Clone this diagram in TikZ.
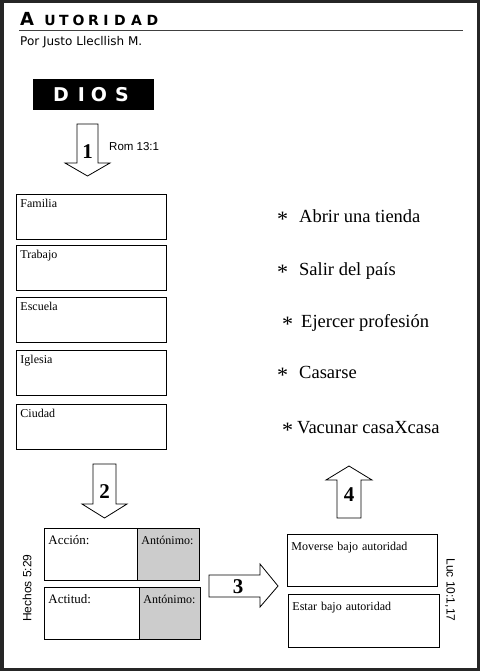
\documentclass[tikz,border=0pt]{standalone}
\usepackage{fontspec}
\setmainfont{Liberation Serif}
\setsansfont{Liberation Sans}
\newfontfamily\headfont{DejaVu Sans}
\tikzset{
  blockarrow/.style={draw,fill=white,line width=0.8pt},
  arrownum/.style={font=\fontsize{21}{21}\selectfont\bfseries},
  lbox/.style={draw,line width=0.9pt,anchor=north west,text width=142pt,align=left,
    inner xsep=4pt,inner ysep=3pt,text height=10pt,text depth=29pt,font=\fontsize{12}{12}\selectfont},
  item/.style={anchor=base west,inner sep=0pt,font=\fontsize{18.5}{18.5}\selectfont},
  abox/.style={draw,line width=0.9pt,anchor=north west,align=left,inner xsep=4pt,inner ysep=3pt,
    text height=13pt,text depth=33pt,font=\fontsize{13}{13}\selectfont},
  gbox/.style={abox,fill=gray!40,font=\fontsize{12}{12}\selectfont},
  rbox/.style={draw,line width=0.9pt,anchor=north west,align=left,inner xsep=4pt,inner ysep=3pt,
    text height=13pt,text depth=33pt,font=\fontsize{12}{12}\selectfont},
  refs/.style={font=\sffamily\fontsize{12}{12}\selectfont,inner sep=0pt}
}
\newcommand{\itemstar}[1]{\makebox[#1][l]{\raisebox{-4pt}{\fontsize{22}{22}\selectfont *}}}
\begin{document}
\begin{tikzpicture}[x=1pt,y=-1pt]
  \useasboundingbox (0,0) rectangle (480,671);
  \draw[line width=3.5pt,black!85] (1.75,1.75) rectangle (478.25,669.25);
  % titulo
  \node[anchor=base,inner sep=0pt,font=\headfont\bfseries\fontsize{18}{18}\selectfont] (tit0) at (27,26) {A};
  \foreach \x/\l [count=\i] in {50/U,64/T,78.5/O,93.5/R,106/I,120/D,136.5/A,152.5/D}
    \node[anchor=base,inner sep=0pt,font=\headfont\bfseries\fontsize{14}{14}\selectfont] (tit\i) at (\x,26) {\l};
  \draw[line width=1pt,black!75] (19,30.5) -- (463,30.5);
  \node[anchor=base west,inner sep=0pt,font=\headfont\fontsize{12}{12}\selectfont] (autor) at (20,45.5) {Por Justo Llecllish M.};
  % Dios
  \fill[black] (33,79) rectangle (154,110);
  \foreach \x/\l [count=\i] in {61/D,81.5/I,99/O,122/S}
    \node[anchor=base,inner sep=0pt,text=white,font=\headfont\bfseries\fontsize{19}{19}\selectfont] (dios\i) at (\x,102) {\l};
  % flecha 1
  \draw[blockarrow] (77,124) -- (98,124) -- (98,163) -- (110,163) -- (87.5,176) -- (65,163) -- (77,163) -- cycle;
  \node[arrownum] (uno) at (87.5,152) {1};
  \node[refs,font=\sffamily\fontsize{11.5}{11.5}\selectfont,anchor=west] (rom) at (109,147) {Rom 13:1};
  % autoridades
  \foreach \y/\txt/\nm in {194/Familia/familia,245/Trabajo/trabajo,297/Escuela/escuela,350/Iglesia/iglesia,404/Ciudad/ciudad}
    \node[lbox] (\nm) at (16,\y) {\txt};
  % lista
  \node[item] (abrir) at (277,222) {\itemstar{22pt}Abrir una tienda};
  \node[item] (salir) at (277,275) {\itemstar{22pt}Salir del país};
  \node[item] (ejercer) at (282,327) {\itemstar{19pt}Ejercer profesión};
  \node[item] (casarse) at (277,378) {\itemstar{22pt}Casarse};
  \node[item] (vacunar) at (282,433) {\itemstar{15pt}Vacunar casaXcasa};
  % flecha 2
  \draw[blockarrow] (93,464) -- (116,464) -- (116,504) -- (127,504) -- (104.5,518) -- (82,504) -- (93,504) -- cycle;
  \node[arrownum] (dos) at (104.5,492) {2};
  % flecha 4
  \draw[blockarrow] (337,518) -- (337,480) -- (326,480) -- (349,466) -- (372,480) -- (361,480) -- (361,518) -- cycle;
  \node[arrownum] (cuatro) at (349,495) {4};
  % accion / actitud
  \node[abox,text width=85pt] (accion) at (44,528) {Acción:};
  \node[gbox,text width=54pt] (anton1) at (137,528) {Antónimo:};
  \node[abox,text width=87pt] (actitud) at (44,587) {Actitud:};
  \node[gbox,text width=53pt] (anton2) at (139,587) {Antónimo:};
  \node[refs,rotate=90] (hechos) at (27,588) {Hechos 5:29};
  % flecha 3
  \draw[blockarrow] (209,575) -- (260,575) -- (260,564) -- (278,586) -- (260,607) -- (260,597) -- (209,597) -- cycle;
  \node[arrownum] (tres) at (238,587) {3};
  % bajo autoridad
  \node[rbox,text width=142pt] (moverse) at (287,534) {Moverse bajo autoridad};
  \node[rbox,text width=143pt,text depth=34pt] (estar) at (288,594) {Estar bajo autoridad};
  \node[refs,rotate=-90] (luc) at (450,590) {Luc 10:1,17};
\end{tikzpicture}
\end{document}
